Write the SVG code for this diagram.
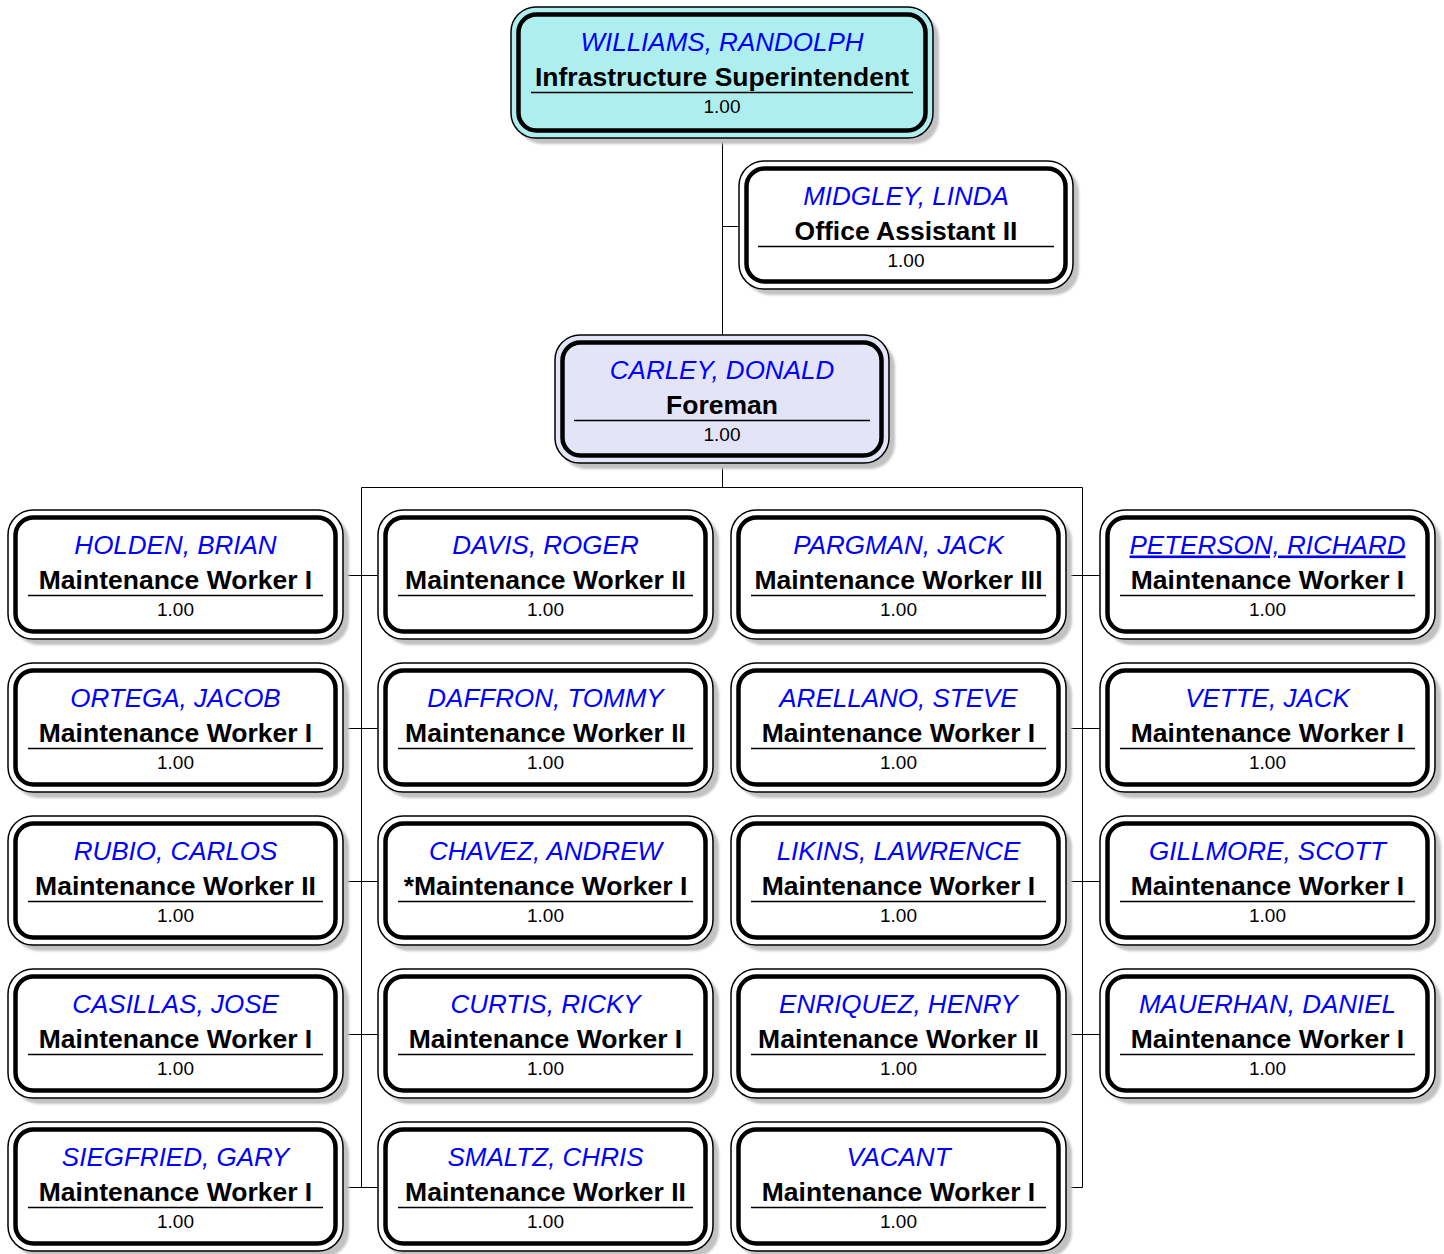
<svg xmlns="http://www.w3.org/2000/svg" width="1444" height="1254" viewBox="0 0 1444 1254">
  <style>
    text { font-family: "Liberation Sans", Arial, sans-serif; text-anchor: middle; }
    .name { font-size: 26px; font-style: italic; fill: #0000ff; }
    .title { font-size: 26.5px; font-weight: bold; fill: #000; }
    .fte { font-size: 19px; fill: #000; }
    .rule { stroke: #000; stroke-width: 1.5; }
    .shadow { fill: #c2c2c2; filter: url(#soft); }
    .outer { stroke: #000; stroke-width: 1.5; }
    .inner { stroke: #000; stroke-width: 4.5; }
    .plain { fill: #ffffff; }
    .exec { fill: #afeeee; }
    .lead { fill: #e4e4f8; }
    .wire { stroke: #000; stroke-width: 1; fill: none; }
  </style>
  <defs>
    <filter id="soft" x="-5%" y="-5%" width="110%" height="110%">
      <feGaussianBlur stdDeviation="0.8"/>
    </filter>
  </defs>
  <rect width="1444" height="1254" fill="#ffffff"/>

  <!-- reporting lines -->
  <g id="connectors">
    <path class="wire" d="M722.5 138V335 M722.5 226.5H739 M722.5 463V487.5 M361.5 487.5H1082.5 M361.5 487.5V1187.5 M1082.5 487.5V1187.5"/>
    <path class="wire" d="M343 575.5H378 M343 728.5H378 M343 881.5H378 M343 1034.5H378 M343 1187.5H378"/>
    <path class="wire" d="M1066 575.5H1100 M1066 728.5H1100 M1066 881.5H1100 M1066 1034.5H1100 M1066 1187.5H1082.5"/>
  </g>

  <!-- superintendent -->
  <g id="williams" transform="translate(511,7)">
    <rect class="shadow" x="6" y="6" width="422" height="131" rx="25"/>
    <rect class="outer exec" x="0" y="0" width="422" height="131" rx="25"/>
    <rect class="inner exec" x="7.5" y="7.5" width="407" height="116" rx="18"/>
    <text class="name" x="211" y="43.5">WILLIAMS, RANDOLPH</text>
    <text class="title" x="211" y="78.5">Infrastructure Superintendent</text>
    <line class="rule" x1="20" y1="85.5" x2="402" y2="85.5"/>
    <text class="fte" x="211" y="106">1.00</text>
  </g>

  <g id="midgley" transform="translate(739,161)">
    <rect class="shadow" x="6" y="6" width="334" height="128" rx="25"/>
    <rect class="outer plain" x="0" y="0" width="334" height="128" rx="25"/>
    <rect class="inner plain" x="7.5" y="7.5" width="319" height="113" rx="18"/>
    <text class="name" x="167" y="43.5">MIDGLEY, LINDA</text>
    <text class="title" x="167" y="78.5">Office Assistant II</text>
    <line class="rule" x1="19" y1="85.5" x2="315" y2="85.5"/>
    <text class="fte" x="167" y="106">1.00</text>
  </g>

  <g id="carley" transform="translate(555,335)">
    <rect class="shadow" x="6" y="6" width="334" height="128" rx="25"/>
    <rect class="outer lead" x="0" y="0" width="334" height="128" rx="25"/>
    <rect class="inner lead" x="7.5" y="7.5" width="319" height="113" rx="18"/>
    <text class="name" x="167" y="43.5">CARLEY, DONALD</text>
    <text class="title" x="167" y="78.5">Foreman</text>
    <line class="rule" x1="19" y1="85.5" x2="315" y2="85.5"/>
    <text class="fte" x="167" y="106">1.00</text>
  </g>

  <!-- column 1 -->
  <g id="holden" transform="translate(8,510)">
    <rect class="shadow" x="6" y="6" width="335" height="129" rx="25"/>
    <rect class="outer plain" x="0" y="0" width="335" height="129" rx="25"/>
    <rect class="inner plain" x="7.5" y="7.5" width="320" height="114" rx="18"/>
    <text class="name" x="167.5" y="43.5">HOLDEN, BRIAN</text>
    <text class="title" x="167.5" y="78.5">Maintenance Worker I</text>
    <line class="rule" x1="20" y1="85.5" x2="315" y2="85.5"/>
    <text class="fte" x="167.5" y="106">1.00</text>
  </g>
  <g id="ortega" transform="translate(8,663)">
    <rect class="shadow" x="6" y="6" width="335" height="129" rx="25"/>
    <rect class="outer plain" x="0" y="0" width="335" height="129" rx="25"/>
    <rect class="inner plain" x="7.5" y="7.5" width="320" height="114" rx="18"/>
    <text class="name" x="167.5" y="43.5">ORTEGA, JACOB</text>
    <text class="title" x="167.5" y="78.5">Maintenance Worker I</text>
    <line class="rule" x1="20" y1="85.5" x2="315" y2="85.5"/>
    <text class="fte" x="167.5" y="106">1.00</text>
  </g>
  <g id="rubio" transform="translate(8,816)">
    <rect class="shadow" x="6" y="6" width="335" height="129" rx="25"/>
    <rect class="outer plain" x="0" y="0" width="335" height="129" rx="25"/>
    <rect class="inner plain" x="7.5" y="7.5" width="320" height="114" rx="18"/>
    <text class="name" x="167.5" y="43.5">RUBIO, CARLOS</text>
    <text class="title" x="167.5" y="78.5">Maintenance Worker II</text>
    <line class="rule" x1="20" y1="85.5" x2="315" y2="85.5"/>
    <text class="fte" x="167.5" y="106">1.00</text>
  </g>
  <g id="casillas" transform="translate(8,969)">
    <rect class="shadow" x="6" y="6" width="335" height="129" rx="25"/>
    <rect class="outer plain" x="0" y="0" width="335" height="129" rx="25"/>
    <rect class="inner plain" x="7.5" y="7.5" width="320" height="114" rx="18"/>
    <text class="name" x="167.5" y="43.5">CASILLAS, JOSE</text>
    <text class="title" x="167.5" y="78.5">Maintenance Worker I</text>
    <line class="rule" x1="20" y1="85.5" x2="315" y2="85.5"/>
    <text class="fte" x="167.5" y="106">1.00</text>
  </g>
  <g id="siegfried" transform="translate(8,1122)">
    <rect class="shadow" x="6" y="6" width="335" height="129" rx="25"/>
    <rect class="outer plain" x="0" y="0" width="335" height="129" rx="25"/>
    <rect class="inner plain" x="7.5" y="7.5" width="320" height="114" rx="18"/>
    <text class="name" x="167.5" y="43.5">SIEGFRIED, GARY</text>
    <text class="title" x="167.5" y="78.5">Maintenance Worker I</text>
    <line class="rule" x1="20" y1="85.5" x2="315" y2="85.5"/>
    <text class="fte" x="167.5" y="106">1.00</text>
  </g>

  <!-- column 2 -->
  <g id="davis" transform="translate(378,510)">
    <rect class="shadow" x="6" y="6" width="335" height="129" rx="25"/>
    <rect class="outer plain" x="0" y="0" width="335" height="129" rx="25"/>
    <rect class="inner plain" x="7.5" y="7.5" width="320" height="114" rx="18"/>
    <text class="name" x="167.5" y="43.5">DAVIS, ROGER</text>
    <text class="title" x="167.5" y="78.5">Maintenance Worker II</text>
    <line class="rule" x1="20" y1="85.5" x2="315" y2="85.5"/>
    <text class="fte" x="167.5" y="106">1.00</text>
  </g>
  <g id="daffron" transform="translate(378,663)">
    <rect class="shadow" x="6" y="6" width="335" height="129" rx="25"/>
    <rect class="outer plain" x="0" y="0" width="335" height="129" rx="25"/>
    <rect class="inner plain" x="7.5" y="7.5" width="320" height="114" rx="18"/>
    <text class="name" x="167.5" y="43.5">DAFFRON, TOMMY</text>
    <text class="title" x="167.5" y="78.5">Maintenance Worker II</text>
    <line class="rule" x1="20" y1="85.5" x2="315" y2="85.5"/>
    <text class="fte" x="167.5" y="106">1.00</text>
  </g>
  <g id="chavez" transform="translate(378,816)">
    <rect class="shadow" x="6" y="6" width="335" height="129" rx="25"/>
    <rect class="outer plain" x="0" y="0" width="335" height="129" rx="25"/>
    <rect class="inner plain" x="7.5" y="7.5" width="320" height="114" rx="18"/>
    <text class="name" x="167.5" y="43.5">CHAVEZ, ANDREW</text>
    <text class="title" x="167.5" y="78.5">*Maintenance Worker I</text>
    <line class="rule" x1="20" y1="85.5" x2="315" y2="85.5"/>
    <text class="fte" x="167.5" y="106">1.00</text>
  </g>
  <g id="curtis" transform="translate(378,969)">
    <rect class="shadow" x="6" y="6" width="335" height="129" rx="25"/>
    <rect class="outer plain" x="0" y="0" width="335" height="129" rx="25"/>
    <rect class="inner plain" x="7.5" y="7.5" width="320" height="114" rx="18"/>
    <text class="name" x="167.5" y="43.5">CURTIS, RICKY</text>
    <text class="title" x="167.5" y="78.5">Maintenance Worker I</text>
    <line class="rule" x1="20" y1="85.5" x2="315" y2="85.5"/>
    <text class="fte" x="167.5" y="106">1.00</text>
  </g>
  <g id="smaltz" transform="translate(378,1122)">
    <rect class="shadow" x="6" y="6" width="335" height="129" rx="25"/>
    <rect class="outer plain" x="0" y="0" width="335" height="129" rx="25"/>
    <rect class="inner plain" x="7.5" y="7.5" width="320" height="114" rx="18"/>
    <text class="name" x="167.5" y="43.5">SMALTZ, CHRIS</text>
    <text class="title" x="167.5" y="78.5">Maintenance Worker II</text>
    <line class="rule" x1="20" y1="85.5" x2="315" y2="85.5"/>
    <text class="fte" x="167.5" y="106">1.00</text>
  </g>

  <!-- column 3 -->
  <g id="pargman" transform="translate(731,510)">
    <rect class="shadow" x="6" y="6" width="335" height="129" rx="25"/>
    <rect class="outer plain" x="0" y="0" width="335" height="129" rx="25"/>
    <rect class="inner plain" x="7.5" y="7.5" width="320" height="114" rx="18"/>
    <text class="name" x="167.5" y="43.5">PARGMAN, JACK</text>
    <text class="title" x="167.5" y="78.5">Maintenance Worker III</text>
    <line class="rule" x1="20" y1="85.5" x2="315" y2="85.5"/>
    <text class="fte" x="167.5" y="106">1.00</text>
  </g>
  <g id="arellano" transform="translate(731,663)">
    <rect class="shadow" x="6" y="6" width="335" height="129" rx="25"/>
    <rect class="outer plain" x="0" y="0" width="335" height="129" rx="25"/>
    <rect class="inner plain" x="7.5" y="7.5" width="320" height="114" rx="18"/>
    <text class="name" x="167.5" y="43.5">ARELLANO, STEVE</text>
    <text class="title" x="167.5" y="78.5">Maintenance Worker I</text>
    <line class="rule" x1="20" y1="85.5" x2="315" y2="85.5"/>
    <text class="fte" x="167.5" y="106">1.00</text>
  </g>
  <g id="likins" transform="translate(731,816)">
    <rect class="shadow" x="6" y="6" width="335" height="129" rx="25"/>
    <rect class="outer plain" x="0" y="0" width="335" height="129" rx="25"/>
    <rect class="inner plain" x="7.5" y="7.5" width="320" height="114" rx="18"/>
    <text class="name" x="167.5" y="43.5">LIKINS, LAWRENCE</text>
    <text class="title" x="167.5" y="78.5">Maintenance Worker I</text>
    <line class="rule" x1="20" y1="85.5" x2="315" y2="85.5"/>
    <text class="fte" x="167.5" y="106">1.00</text>
  </g>
  <g id="enriquez" transform="translate(731,969)">
    <rect class="shadow" x="6" y="6" width="335" height="129" rx="25"/>
    <rect class="outer plain" x="0" y="0" width="335" height="129" rx="25"/>
    <rect class="inner plain" x="7.5" y="7.5" width="320" height="114" rx="18"/>
    <text class="name" x="167.5" y="43.5">ENRIQUEZ, HENRY</text>
    <text class="title" x="167.5" y="78.5">Maintenance Worker II</text>
    <line class="rule" x1="20" y1="85.5" x2="315" y2="85.5"/>
    <text class="fte" x="167.5" y="106">1.00</text>
  </g>
  <g id="vacant" transform="translate(731,1122)">
    <rect class="shadow" x="6" y="6" width="335" height="129" rx="25"/>
    <rect class="outer plain" x="0" y="0" width="335" height="129" rx="25"/>
    <rect class="inner plain" x="7.5" y="7.5" width="320" height="114" rx="18"/>
    <text class="name" x="167.5" y="43.5">VACANT</text>
    <text class="title" x="167.5" y="78.5">Maintenance Worker I</text>
    <line class="rule" x1="20" y1="85.5" x2="315" y2="85.5"/>
    <text class="fte" x="167.5" y="106">1.00</text>
  </g>

  <!-- column 4 -->
  <g id="peterson" transform="translate(1100,510)">
    <rect class="shadow" x="6" y="6" width="335" height="129" rx="25"/>
    <rect class="outer plain" x="0" y="0" width="335" height="129" rx="25"/>
    <rect class="inner plain" x="7.5" y="7.5" width="320" height="114" rx="18"/>
    <text class="name" x="167.5" y="43.5" text-decoration="underline">PETERSON, RICHARD</text>
    <text class="title" x="167.5" y="78.5">Maintenance Worker I</text>
    <line class="rule" x1="20" y1="85.5" x2="315" y2="85.5"/>
    <text class="fte" x="167.5" y="106">1.00</text>
  </g>
  <g id="vette" transform="translate(1100,663)">
    <rect class="shadow" x="6" y="6" width="335" height="129" rx="25"/>
    <rect class="outer plain" x="0" y="0" width="335" height="129" rx="25"/>
    <rect class="inner plain" x="7.5" y="7.5" width="320" height="114" rx="18"/>
    <text class="name" x="167.5" y="43.5">VETTE, JACK</text>
    <text class="title" x="167.5" y="78.5">Maintenance Worker I</text>
    <line class="rule" x1="20" y1="85.5" x2="315" y2="85.5"/>
    <text class="fte" x="167.5" y="106">1.00</text>
  </g>
  <g id="gillmore" transform="translate(1100,816)">
    <rect class="shadow" x="6" y="6" width="335" height="129" rx="25"/>
    <rect class="outer plain" x="0" y="0" width="335" height="129" rx="25"/>
    <rect class="inner plain" x="7.5" y="7.5" width="320" height="114" rx="18"/>
    <text class="name" x="167.5" y="43.5">GILLMORE, SCOTT</text>
    <text class="title" x="167.5" y="78.5">Maintenance Worker I</text>
    <line class="rule" x1="20" y1="85.5" x2="315" y2="85.5"/>
    <text class="fte" x="167.5" y="106">1.00</text>
  </g>
  <g id="mauerhan" transform="translate(1100,969)">
    <rect class="shadow" x="6" y="6" width="335" height="129" rx="25"/>
    <rect class="outer plain" x="0" y="0" width="335" height="129" rx="25"/>
    <rect class="inner plain" x="7.5" y="7.5" width="320" height="114" rx="18"/>
    <text class="name" x="167.5" y="43.5">MAUERHAN, DANIEL</text>
    <text class="title" x="167.5" y="78.5">Maintenance Worker I</text>
    <line class="rule" x1="20" y1="85.5" x2="315" y2="85.5"/>
    <text class="fte" x="167.5" y="106">1.00</text>
  </g>
</svg>
